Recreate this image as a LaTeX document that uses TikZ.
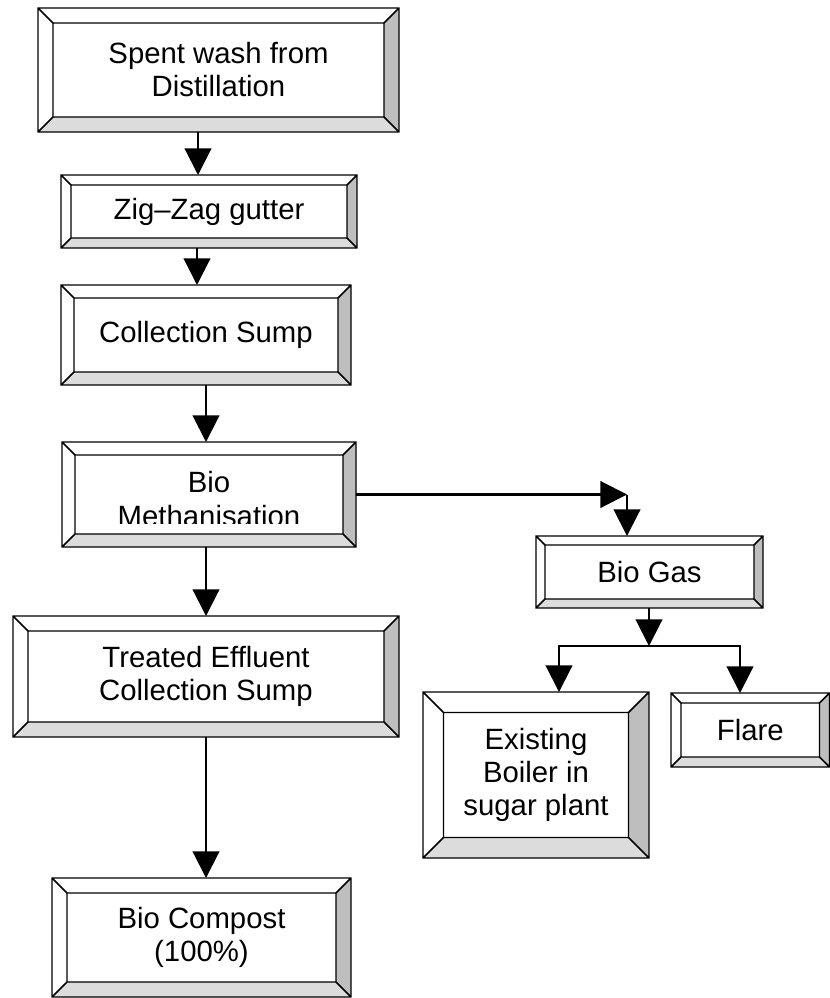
\documentclass[tikz,border=0pt]{standalone}
\usepackage{fontspec}
\setmainfont{Liberation Sans}
\usetikzlibrary{arrows.meta}
\definecolor{bevlight}{RGB}{220,220,220}
\definecolor{bevdark}{RGB}{190,190,190}
% #1 name, #2 x1, #3 y1, #4 x2, #5 y2, #6 bevel, #7 text
\newcommand\bevbox[7]{%
  \fill[white] (#2,#3) rectangle (#4,#5);
  \fill[bevlight] (#2,#5) -- (#4,#5) -- (#4-#6,#5-#6) -- (#2+#6,#5-#6) -- cycle;
  \fill[bevdark] (#4,#3) -- (#4,#5) -- (#4-#6,#5-#6) -- (#4-#6,#3+#6) -- cycle;
  \draw[boxline] (#2,#3) rectangle (#4,#5) (#2+#6,#3+#6) rectangle (#4-#6,#5-#6)
     (#2,#3) -- (#2+#6,#3+#6) (#4,#3) -- (#4-#6,#3+#6)
     (#2,#5) -- (#2+#6,#5-#6) (#4,#5) -- (#4-#6,#5-#6);
  \node[boxtext, minimum width={(#4-#2)*0.75pt}, minimum height={(#5-#3)*0.75pt}]
     (#1) at ({(#2+#4)/2},{(#3+#5)/2}) {#7};
}
\begin{document}
\begin{tikzpicture}[x=0.75pt,y=-0.75pt,
  boxline/.style={line width=1.1pt, line join=miter},
  boxtext/.style={align=center, font=\fontsize{22pt}{24.75pt}\selectfont,
    inner sep=0pt, outer sep=0pt},
  arr/.style={line width=1.6pt, -{Triangle[width=20pt,length=20pt]}},
]
\useasboundingbox (0,0) rectangle (830,998);

\bevbox{b1}{38}{8}{399}{132}{15}{Spent wash from\\Distillation}
\bevbox{b2}{61}{175}{357}{248}{10}{Zig–Zag gutter}
\bevbox{b3}{61}{285}{351}{385}{13}{Collection Sump}
\bevbox{b4}{62}{442}{356}{547}{13}{}
\begin{scope}
  \clip (75,455) rectangle (343,523);
  \node[boxtext, anchor=base] (m1) at (209,492) {Bio};
  \node[boxtext, anchor=base] (m2) at (209,526) {Methanisation};
\end{scope}
\bevbox{b5}{13}{616}{399}{737}{15}{Treated Effluent\\Collection Sump}
\bevbox{b6}{52}{878}{351}{997}{15}{Bio Compost\\(100\%)}
\bevbox{bg}{536}{536}{763}{608}{9}{Bio Gas}
\bevbox{bo}{423}{692}{649}{858}{20.5}{Existing\\Boiler in\\sugar plant}
\bevbox{fl}{671}{693}{829.5}{767}{10}{Flare}

\coordinate (cA) at (198,0);
\coordinate (cB) at (197,0);
\coordinate (cC) at (206,0);
\coordinate (h) at (627,494.5);
\coordinate (fk) at (649,646);
\coordinate (fkl) at (559,646);
\coordinate (fkr) at (740,646);

\draw[arr] (b1.south -| cA) -- (b2.north -| cA);
\draw[arr] (b2.south -| cB) -- (b3.north -| cB);
\draw[arr] (b3.south -| cC) -- (b4.north -| cC);
\draw[arr] (b4.south -| cC) -- (b5.north -| cC);
\draw[arr] (b5.south -| cC) -- (b6.north -| cC);
\draw[arr] (b4.east) -- (h);
\draw[arr] (h) -- (bg.north -| h);
\draw[arr] (bg.south -| fk) -- (fk);
\draw[arr] (fk) -- (fkl) -- (bo.north -| fkl);
\draw[arr] (fk) -- (fkr) -- (fl.north -| fkr);
\end{tikzpicture}
\end{document}
